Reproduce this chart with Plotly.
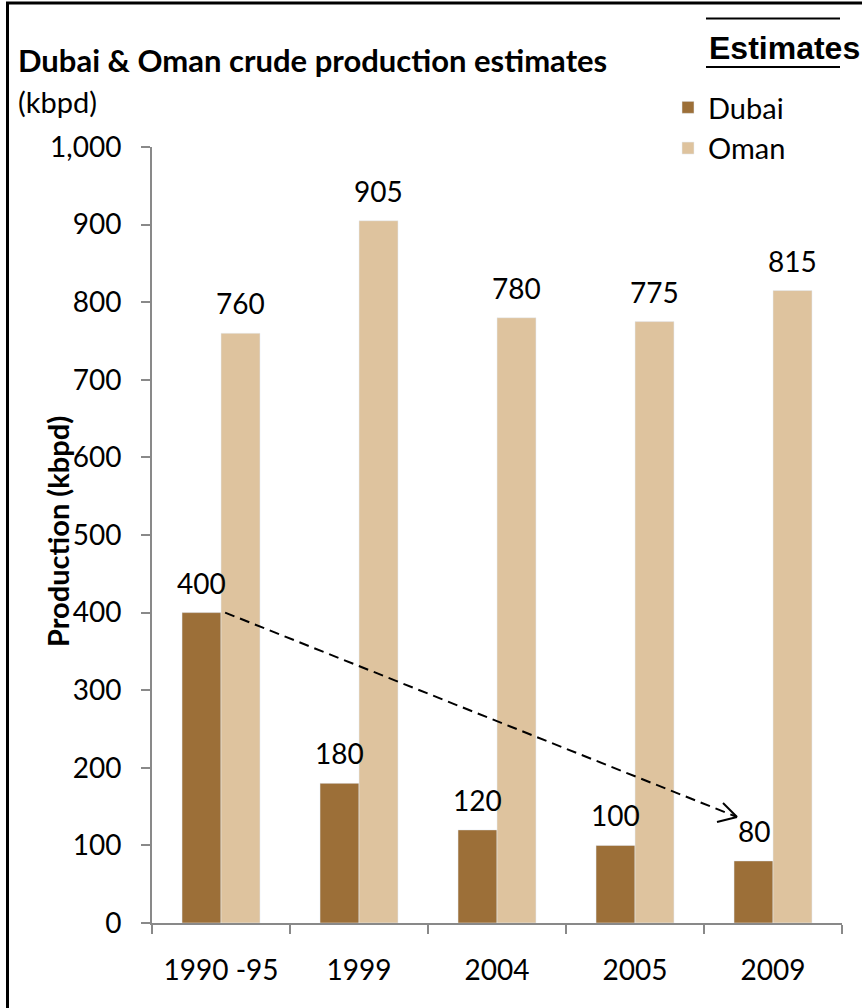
import plotly.graph_objects as go

# Data
categories = ["1990 -95", "1999", "2004", "2005", "2009"]
dubai = [400, 180, 120, 100, 80]
oman = [760, 905, 780, 775, 815]
y_ticks = [0, 100, 200, 300, 400, 500, 600, 700, 800, 900, 1000]
y_tick_text = ["0", "100", "200", "300", "400", "500", "600", "700", "800", "900", "1,000"]

DUBAI_COLOR = "#9C6F38"
OMAN_COLOR = "#DEC39E"
FONT = "Lato"
SIZE = 28

W, H = 862, 1008
L, R, T, B = 152, 20, 147, 85
PW, PH = W - L - R, H - T - B
Y_MAX = 1000
BARGAP = 0.435


def px_x(p):
    return (p - L) / PW


def px_y(p):
    return (H - B - p) / PH


def data_x(p):
    return (p - L) / (PW / len(categories)) - 0.5


def data_y(p):
    return (H - B - p) / (PH / Y_MAX)


fig = go.Figure()
fig.add_trace(go.Bar(x=categories, y=dubai, name="Dubai", marker_color=DUBAI_COLOR))
fig.add_trace(go.Bar(x=categories, y=oman, name="Oman", marker_color=OMAN_COLOR))

# value labels above each bar
half = (1 - BARGAP) / 4
annotations = []
for i, (d, o) in enumerate(zip(dubai, oman)):
    for val, off in ((d, -half), (o, half)):
        annotations.append(dict(
            x=i + off, y=val, xref="x", yref="y", text=str(val), showarrow=False,
            yshift=30, font=dict(family=FONT, size=SIZE, color="black"),
        ))

# title and unit
annotations.append(dict(
    x=px_x(16), y=px_y(60), xref="paper", yref="paper", xanchor="left", yanchor="middle",
    text="<b>Dubai & Oman crude production estimates</b>", showarrow=False,
    font=dict(family=FONT, size=31, color="black"),
))
annotations.append(dict(
    x=px_x(16), y=px_y(102), xref="paper", yref="paper", xanchor="left", yanchor="middle",
    text="(kbpd)", showarrow=False, font=dict(family=FONT, size=29, color="black"),
))
annotations.append(dict(
    x=px_x(784), y=px_y(48), xref="paper", yref="paper", xanchor="center", yanchor="middle",
    text="<b>Estimates</b>", showarrow=False,
    font=dict(family="Liberation Sans", size=32, color="black"),
))
# vertical axis title
annotations.append(dict(
    x=px_x(57), y=px_y(532), xref="paper", yref="paper", xanchor="center", yanchor="middle",
    text="<b>Production (kbpd)</b>", showarrow=False, textangle=-90,
    font=dict(family=FONT, size=29, color="black"),
))

shapes = []
# frame lines
shapes.append(dict(type="line", xref="paper", yref="paper", x0=px_x(7.5), x1=px_x(7.5),
                   y0=px_y(2), y1=px_y(H + 5), line=dict(color="black", width=3)))
shapes.append(dict(type="line", xref="paper", yref="paper", x0=px_x(6), x1=px_x(W + 5),
                   y0=px_y(3), y1=px_y(3), line=dict(color="black", width=3)))
# rules around "Estimates"
for yy in (18.5, 67):
    shapes.append(dict(type="line", xref="paper", yref="paper", x0=px_x(706), x1=px_x(840),
                       y0=px_y(yy), y1=px_y(yy), line=dict(color="black", width=2)))

# dashed trend arrow from the first Dubai bar towards the last one
x_start, y_start = 0.03, dubai[0]
tip_px = (737, 817)
x_end, y_end = data_x(tip_px[0]), data_y(tip_px[1])
shapes.append(dict(type="line", xref="x", yref="y", x0=x_start, y0=y_start, x1=x_end, y1=y_end,
                   line=dict(color="black", width=2, dash="10px,6px")))
for arm in ((723, 803), (717, 822)):
    shapes.append(dict(type="line", xref="x", yref="y", x0=data_x(arm[0]), y0=data_y(arm[1]),
                       x1=x_end, y1=y_end, line=dict(color="black", width=2)))

fig.update_layout(
    width=W, height=H,
    margin=dict(l=L, r=R, t=T, b=B, pad=0),
    paper_bgcolor="white", plot_bgcolor="white",
    barmode="group", bargap=BARGAP, bargroupgap=0,
    font=dict(family=FONT, size=SIZE, color="black"),
    annotations=annotations, shapes=shapes,
    legend=dict(
        x=px_x(668), y=px_y(82), xanchor="left", yanchor="top",
        xref="paper", yref="paper",
        font=dict(family=FONT, size=29, color="black"),
        bgcolor="rgba(0,0,0,0)", itemwidth=30, tracegroupgap=0,
    ),
    showlegend=True,
)

fig.update_xaxes(
    type="category", showline=True, linecolor="#898989", linewidth=2,
    ticks="outside", tickson="boundaries", ticklen=9, tickwidth=2, tickcolor="#898989",
    showgrid=False, ticklabelstandoff=21,
    tickfont=dict(family=FONT, size=SIZE, color="black"),
)
fig.update_yaxes(
    range=[0, Y_MAX], showline=True, linecolor="#898989", linewidth=2,
    ticks="outside", ticklen=9, tickwidth=2, tickcolor="#898989",
    tickvals=y_ticks, ticktext=y_tick_text, showgrid=False, zeroline=False,
    ticklabelstandoff=14,
    tickfont=dict(family=FONT, size=SIZE, color="black"),
)

fig.write_html("out.html")
